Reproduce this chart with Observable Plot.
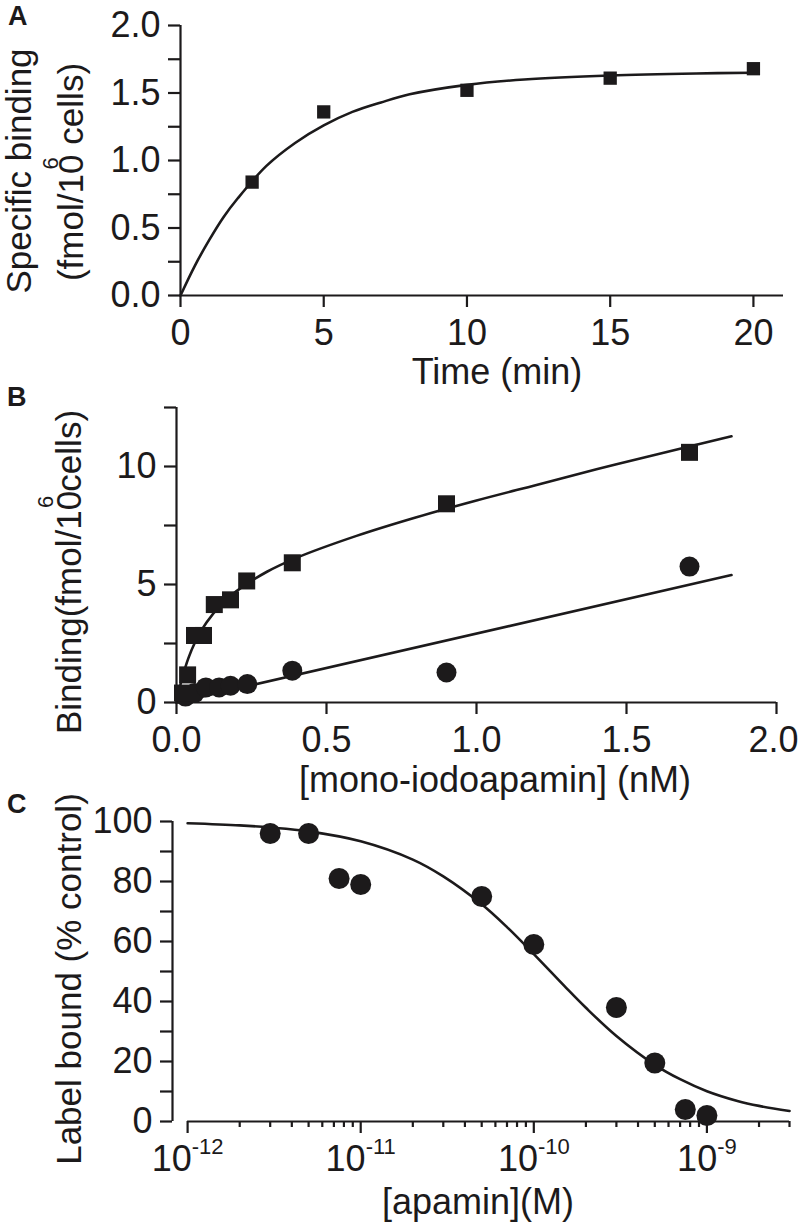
<!DOCTYPE html>
<html>
<head>
<meta charset="utf-8">
<script src="https://cdn.jsdelivr.net/npm/d3@7"></script>
<script src="https://cdn.jsdelivr.net/npm/@observablehq/plot@0.6"></script>
<style>
  body { margin: 0; background: #ffffff; }
  #wrap { position: relative; width: 800px; height: 1227px; overflow: hidden; background: #fff; }
</style>
</head>
<body>
<div id="wrap"></div>
<script>
// ---------- Panel A: association time course ----------
const timeMin = [2.5, 5, 10, 15, 20];
const bindingA = [0.84, 1.36, 1.52, 1.61, 1.68];
const fitA_t = [0, 0.5, 1, 1.5, 2, 3, 4, 5, 6, 7, 8, 10, 12, 15, 18, 20];
const fitA_y = [0, 0.22, 0.41, 0.58, 0.72, 0.96, 1.13, 1.26, 1.36, 1.43, 1.49, 1.56, 1.60, 1.63, 1.645, 1.65];
const xDomainA = [0, 21.05];
const yDomainA = [0, 2];
const xTicksA = [0, 5, 10, 15, 20];
const yTicksA = [0, 0.5, 1.0, 1.5, 2.0];
const yMinorA = [0.25, 0.75, 1.25, 1.75];

// ---------- Panel B: saturation ----------
const concTotal = [0.02, 0.037, 0.06, 0.09, 0.126, 0.18, 0.234, 0.386, 0.90, 1.71];
const bindTotal = [0.4, 1.17, 2.84, 2.84, 4.15, 4.35, 5.15, 5.92, 8.42, 10.6];
const concNonspec = [0.03, 0.06, 0.098, 0.142, 0.18, 0.236, 0.386, 0.90, 1.71];
const bindNonspec = [0.25, 0.4, 0.64, 0.64, 0.71, 0.78, 1.35, 1.27, 5.76];
const fitTotal_x = [0, 0.01, 0.02, 0.04, 0.06, 0.1, 0.15, 0.2, 0.3, 0.4, 0.6, 0.8, 1.0, 1.2, 1.4, 1.6, 1.85];
const fitTotal_y = [0, 0.59, 1.09, 1.89, 2.5, 3.39, 4.16, 4.72, 5.53, 6.13, 7.06, 7.85, 8.56, 9.22, 9.88, 10.51, 11.28];
const fitNonspec_x = [0, 1.85];
const fitNonspec_y = [0, 5.4];
const xDomainB = [0, 2.0];
const yDomainB = [0, 12.5];
const xTicksB = [0, 0.5, 1.0, 1.5, 2.0];
const yTicksB = [0, 5, 10];
const yMinorB = [2.5, 7.5, 12.5];

// ---------- Panel C: competition ----------
const apaminM = [3e-12, 5e-12, 7.5e-12, 1e-11, 5e-11, 1e-10, 3e-10, 5e-10, 7.5e-10, 1e-9];
const boundPct = [96, 96, 81, 79, 75, 59, 38, 19.5, 4, 2];
const fitC_x = [1e-12, 2e-12, 3e-12, 5e-12, 1e-11, 2e-11, 3e-11, 5e-11, 7e-11, 1e-10, 1.5e-10, 2e-10, 3e-10, 5e-10, 7e-10, 1e-9, 1.5e-9, 2e-9, 3e-9];
const fitC_y = [99.4, 98.7, 98.0, 96.7, 93.4, 87.3, 81.7, 72.4, 64.8, 55.8, 45.2, 37.9, 28.5, 18.9, 14.1, 10.1, 6.85, 5.2, 3.5];
const xDomainC = [8.18e-13, 3e-9];
const xAxisSpanC = [1e-12, 3e-9];
const yDomainC = [0, 100];
const xTicksC = [1e-12, 1e-11, 1e-10, 1e-9];
const xTickBaseC = "10";
const xTickExpC = ["-12", "-11", "-10", "-9"];
const xMinorC = [2e-12, 3e-12, 4e-12, 5e-12, 6e-12, 7e-12, 8e-12, 9e-12,
                 2e-11, 3e-11, 4e-11, 5e-11, 6e-11, 7e-11, 8e-11, 9e-11,
                 2e-10, 3e-10, 4e-10, 5e-10, 6e-10, 7e-10, 8e-10, 9e-10,
                 2e-9, 3e-9];
const yTicksC = [0, 20, 40, 60, 80, 100];
const yMinorC = [10, 30, 50, 70, 90];

// ---------- shared style ----------
const ink = "#1c1a1b";
const fontFamily = "'Liberation Sans', Arial, Helvetica, sans-serif";
const tickFont = 36;
const titleFont = 36;
const axisW = 2.2;
const curveW = 2.6;

const wrap = document.getElementById("wrap");

function baseStyle(top) {
  return {
    fontFamily, color: ink, background: "transparent", overflow: "visible",
    position: "absolute", left: "0px", top: top + "px", maxWidth: "none"
  };
}

function addText(svg, str, x, y, opts = {}) {
  return d3.select(svg).append("text")
    .attr("x", x).attr("y", y)
    .attr("fill", ink)
    .attr("font-family", fontFamily)
    .attr("font-size", opts.size || titleFont)
    .attr("font-weight", opts.weight || "normal")
    .attr("text-anchor", opts.anchor || "middle")
    .text(str);
}

function addVerticalTitle(svg, parts, bx, cy, size) {
  const t = d3.select(svg).append("text")
    .attr("transform", `translate(${bx},${cy}) rotate(-90)`)
    .attr("fill", ink)
    .attr("font-family", fontFamily)
    .attr("font-size", size || titleFont)
    .attr("text-anchor", "middle");
  for (const p of parts) {
    const s = t.append("tspan").text(p.t);
    if (p.dx) s.attr("dx", p.dx);
    if (p.dy) s.attr("dy", p.dy);
    if (p.size) s.attr("font-size", p.size);
  }
  return t;
}

// ---------- Panel A ----------
const dataA = timeMin.map((t, i) => ({t, y: bindingA[i]}));
const fitA = fitA_t.map((t, i) => ({t, y: fitA_y[i]}));
const svgA = Plot.plot({
  width: 800, height: 385,
  marginLeft: 180, marginRight: 17, marginTop: 25, marginBottom: 90,
  x: {domain: xDomainA},
  y: {domain: yDomainA},
  style: baseStyle(0),
  marks: [
    Plot.ruleX([xDomainA[0]], {y1: yDomainA[0], y2: yDomainA[1], stroke: ink, strokeWidth: axisW}),
    Plot.ruleY([yDomainA[0]], {x1: xDomainA[0], x2: xDomainA[1], stroke: ink, strokeWidth: axisW}),
    Plot.axisY({ticks: yTicksA, tickSize: 12, tickPadding: 8, tickFormat: d3.format(".1f"), fontSize: tickFont, strokeWidth: axisW, label: null}),
    Plot.axisY({ticks: yMinorA, tickSize: 12, tickFormat: () => "", strokeWidth: axisW, label: null}),
    Plot.axisX({ticks: xTicksA, tickSize: 12, tickPadding: 12, tickFormat: d => String(d), fontSize: tickFont, strokeWidth: axisW, label: null}),
    Plot.line(fitA, {x: "t", y: "y", curve: "catmull-rom", stroke: ink, strokeWidth: curveW}),
    Plot.dot(dataA, {x: "t", y: "y", symbol: "square", r: 7.5, fill: ink, stroke: "none"})
  ]
});
wrap.appendChild(svgA);
addText(svgA, "A", 8, 25, {size: 27, weight: "bold", anchor: "start"});
addText(svgA, "Time (min)", 497, 384);
addVerticalTitle(svgA, [{t: "Specific binding"}], 31, 171, 35);
addVerticalTitle(svgA, [{t: "(fmol/10"}, {t: "6", size: 22, dx: -15, dy: -25}, {t: " cells)", dx: 3, dy: 25}], 83, 172, 35);

// ---------- Panel B ----------
const dataTotal = concTotal.map((x, i) => ({x, y: bindTotal[i]}));
const dataNonspec = concNonspec.map((x, i) => ({x, y: bindNonspec[i]}));
const fitTotal = fitTotal_x.map((x, i) => ({x, y: fitTotal_y[i]}));
const fitNonspec = fitNonspec_x.map((x, i) => ({x, y: fitNonspec_y[i]}));
const svgB = Plot.plot({
  width: 800, height: 405,
  marginLeft: 176, marginRight: 24, marginTop: 22, marginBottom: 88,
  x: {domain: xDomainB},
  y: {domain: yDomainB},
  style: baseStyle(385),
  marks: [
    Plot.ruleX([xDomainB[0]], {y1: yDomainB[0], y2: yDomainB[1], stroke: ink, strokeWidth: axisW}),
    Plot.ruleY([yDomainB[0]], {x1: xDomainB[0], x2: xDomainB[1], stroke: ink, strokeWidth: axisW}),
    Plot.axisY({ticks: yTicksB, tickSize: 12, tickPadding: 8, tickFormat: d => String(d), fontSize: tickFont, strokeWidth: axisW, label: null}),
    Plot.axisY({ticks: yMinorB, tickSize: 12, tickFormat: () => "", strokeWidth: axisW, label: null}),
    Plot.axisX({ticks: xTicksB, tickSize: 12, tickPadding: 12, tickFormat: d3.format(".1f"), fontSize: tickFont, strokeWidth: axisW, label: null}),
    Plot.line(fitNonspec, {x: "x", y: "y", stroke: ink, strokeWidth: curveW}),
    Plot.line(fitTotal, {x: "x", y: "y", curve: "catmull-rom", stroke: ink, strokeWidth: curveW}),
    Plot.dot(dataNonspec, {x: "x", y: "y", r: 10, fill: ink, stroke: "none"}),
    Plot.dot(dataTotal, {x: "x", y: "y", symbol: "square", r: 9.6, fill: ink, stroke: "none"})
  ]
});
wrap.appendChild(svgB);
// keep the last x tick label ("2.0") inside the page edge
d3.select(svgB).selectAll("text").filter(function () { return this.textContent === "2.0"; }).attr("dx", -3);
addText(svgB, "B", 7, 21, {size: 27, weight: "bold", anchor: "start"});
addText(svgB, "[mono-iodoapamin] (nM)", 495, 407);
addVerticalTitle(svgB, [{t: "Binding(fmol/10"}, {t: "6", size: 22, dx: -17, dy: -28}, {t: "cells)", dx: 4, dy: 28}], 81, 187, 35);

// ---------- Panel C ----------
const dataC = apaminM.map((x, i) => ({x, y: boundPct[i]}));
const fitC = fitC_x.map((x, i) => ({x, y: fitC_y[i]}));
const svgC = Plot.plot({
  width: 800, height: 437,
  marginLeft: 172, marginRight: 11, marginTop: 31, marginBottom: 106,
  x: {type: "log", domain: xDomainC},
  y: {domain: yDomainC},
  style: baseStyle(790),
  marks: [
    Plot.ruleX([xDomainC[0]], {y1: yDomainC[0], y2: yDomainC[1], stroke: ink, strokeWidth: axisW}),
    Plot.ruleY([yDomainC[0]], {x1: xAxisSpanC[0], x2: xAxisSpanC[1], stroke: ink, strokeWidth: axisW}),
    Plot.axisY({ticks: yTicksC, tickSize: 12, tickPadding: 8, tickFormat: d => String(d), fontSize: tickFont, strokeWidth: axisW, label: null}),
    Plot.axisY({ticks: yMinorC, tickSize: 12, tickFormat: () => "", strokeWidth: axisW, label: null}),
    Plot.axisX({ticks: xTicksC, tickSize: 12, tickPadding: 12, tickFormat: d => xTickBaseC + "|" + xTickExpC[xTicksC.indexOf(d)], fontSize: tickFont, strokeWidth: axisW, label: null}),
    Plot.axisX({ticks: xMinorC, tickSize: 6, tickFormat: () => "", strokeWidth: axisW, label: null}),
    Plot.line(fitC, {x: "x", y: "y", curve: "catmull-rom", stroke: ink, strokeWidth: curveW}),
    Plot.dot(dataC, {x: "x", y: "y", r: 10.5, fill: ink, stroke: "none"})
  ]
});
wrap.appendChild(svgC);
// turn "10|-12" tick labels into 10 with a raised exponent
d3.select(svgC).selectAll("text").each(function () {
  const s = this.textContent;
  if (s.indexOf("|") < 0) return;
  const [base, exp] = s.split("|");
  const el = d3.select(this);
  el.text(null);
  el.append("tspan").text(base);
  el.append("tspan").text(exp).attr("font-size", 22).attr("dy", -17);
});
addText(svgC, "C", 7, 23, {size: 27, weight: "bold", anchor: "start"});
addText(svgC, "[apamin](M)", 478, 424);
addVerticalTitle(svgC, [{t: "Label bound (% control)"}], 81, 189, 35);
</script>
</body>
</html>
